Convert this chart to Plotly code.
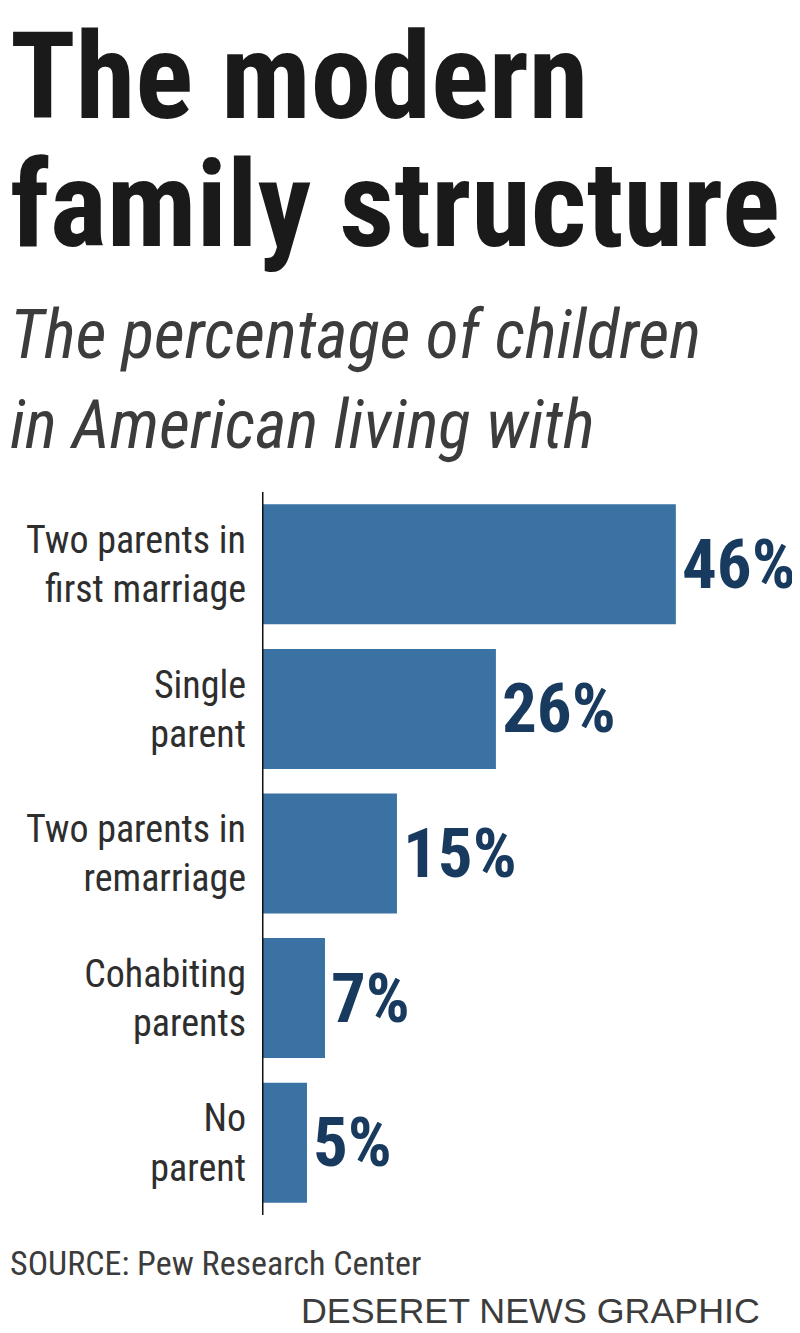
import plotly.graph_objects as go

categories = ["Two parents in<br>first marriage", "Single<br>parent", "Two parents in<br>remarriage",
              "Cohabiting<br>parents", "No<br>parent"]
values = [46, 26, 15, 7, 5]
value_labels = ["46%", "26%", "15%", "7%", "5%"]

title_lines = ["The modern", "family structure"]
subtitle_lines = ["The percentage of children", "in American living with"]
source_text = "SOURCE: Pew Research Center"
credit_text = "DESERET NEWS GRAPHIC"

COND = "Roboto Condensed, Open Sans Condensed, DejaVu Sans Condensed, sans-serif"
OFF = 8  # the page body adds an 8px margin; work in screen pixels of the reference
W, H = 800 - OFF, 1333 - OFF
L, R, T, B = 262 - OFF, 0, 492 - OFF, 1333 - 1215
XMAX = 59.8


def py(p):
    p = p - OFF
    return (H - B - p) / (H - T - B)


def px(p):
    p = p - OFF
    return (p - L) / (W - L - R)


def base(baseline, size):
    # vertical middle of a text box whose baseline is at the given screen row
    return py(baseline - 0.34 * size)


fig = go.Figure(go.Bar(
    x=values, y=categories, orientation="h",
    marker=dict(color="#3a72a4", line=dict(width=0)),
    width=0.83, hoverinfo="skip",
))

annotations = []
for cat, v, lab in zip(categories, values, value_labels):
    annotations.append(dict(x=v, y=cat, xref="x", yref="y", text=lab, showarrow=False,
                            xanchor="left", yanchor="middle", xshift=4,
                            font=dict(family=COND, size=69, color="#173a5e", weight="bold")))

TS = 121
for txt, bl in zip(title_lines, [118, 246]):
    annotations.append(dict(x=px(OFF), y=base(bl, TS), xref="paper", yref="paper", text="<b>%s</b>" % txt,
                            showarrow=False, xanchor="left", yanchor="middle",
                            font=dict(family=COND, size=TS, color="#1a1a1a")))
SS = 67.5
for txt, bl in zip(subtitle_lines, [357, 447]):
    annotations.append(dict(x=px(OFF), y=base(bl, SS), xref="paper", yref="paper", text="<i>%s</i>" % txt,
                            showarrow=False, xanchor="left", yanchor="middle",
                            font=dict(family=COND, size=SS, color="#3c3c3c")))
annotations.append(dict(x=px(OFF), y=base(1275, 34), xref="paper", yref="paper", text=source_text,
                        showarrow=False, xanchor="left", yanchor="middle",
                        font=dict(family=COND, size=34, color="#3c3c3c")))
annotations.append(dict(x=px(762), y=base(1323, 35.8), xref="paper", yref="paper", text=credit_text,
                        showarrow=False, xanchor="right", yanchor="middle",
                        font=dict(family="Liberation Sans, Arial, sans-serif", size=35.8, color="#3c3c3c")))

fig.update_layout(
    width=W, height=H,
    margin=dict(l=L, r=R, t=T, b=B, pad=0),
    paper_bgcolor="white", plot_bgcolor="white",
    showlegend=False,
    bargap=0.17,
    xaxis=dict(range=[0, XMAX], visible=False, fixedrange=True, automargin=False),
    yaxis=dict(autorange="reversed", showgrid=False, zeroline=False, automargin=False,
               showline=False, ticks="", ticklabelstandoff=15,
               tickfont=dict(family=COND, size=38, color="#2e2e2e")),
    shapes=[dict(type="line", xref="x", yref="paper", x0=0, x1=0, y0=0, y1=1,
                 line=dict(color="#111111", width=3), layer="above")],
    annotations=annotations,
)

fig.write_html("out.html")
